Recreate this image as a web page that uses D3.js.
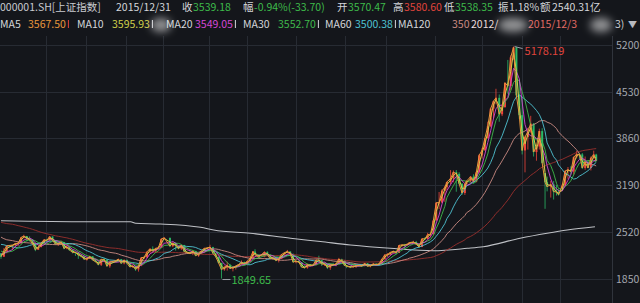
<!DOCTYPE html>
<html lang="zh">
<head>
<meta charset="UTF-8">
<title>上证指数 K线</title>
<script src="https://cdn.jsdelivr.net/npm/d3@7/dist/d3.min.js"></script>
<style>
html, body { margin: 0; padding: 0; background: #14161b; overflow: hidden; }
svg { display: block; }
</style>
</head>
<body>
<script>
// weekly bars, [week end "MM-DD", open, high, low, close]
var k2012 = [
  ["01-06",2212,2214,2132,2163],["01-13",2163,2285,2160,2244],["01-20",2244,2320,2212,2319],
  ["02-03",2319,2332,2260,2330],["02-10",2330,2363,2300,2351],["02-17",2351,2375,2318,2357],
  ["02-24",2357,2440,2340,2439],["03-02",2439,2478,2425,2460],["03-09",2460,2461,2380,2420],
  ["03-16",2420,2455,2380,2405],["03-23",2405,2410,2340,2349],["03-30",2349,2350,2242,2262],
  ["04-06",2262,2305,2258,2302],["04-13",2302,2360,2295,2359],["04-20",2359,2410,2350,2406],
  ["04-27",2406,2415,2370,2396],["05-04",2396,2453,2394,2452],["05-11",2452,2455,2390,2394],
  ["05-18",2394,2400,2331,2344],["05-25",2344,2370,2318,2350],["06-01",2350,2393,2340,2373],
  ["06-08",2373,2375,2270,2281],["06-15",2281,2321,2270,2306],["06-21",2306,2310,2245,2260],
  ["06-29",2260,2262,2210,2225],["07-06",2225,2241,2174,2223],["07-13",2223,2226,2132,2185],
  ["07-20",2185,2200,2152,2168],["07-27",2168,2170,2116,2128],["08-03",2128,2145,2106,2132],
  ["08-10",2132,2176,2130,2168],["08-17",2168,2173,2110,2114],["08-24",2114,2132,2082,2092],
  ["08-31",2092,2095,2038,2047],["09-07",2047,2128,2029,2127],["09-14",2127,2146,2110,2120],
  ["09-21",2120,2122,2022,2026],["09-28",2026,2088,2004,2086],["10-12",2086,2115,2084,2104],
  ["10-19",2104,2133,2092,2128],["10-26",2128,2130,2060,2067],["11-02",2067,2120,2053,2117],
  ["11-09",2117,2120,2063,2069],["11-16",2069,2073,2012,2015],["11-23",2015,2045,2000,2030],
  ["11-30",2030,2033,1959,1980],["12-07",1980,2034,1949,2033],["12-14",2033,2151,2026,2150],
  ["12-21",2150,2175,2128,2153],["12-28",2153,2236,2148,2233]
];
var k2013 = [
  ["01-04",2233,2276,2226,2276],["01-11",2276,2311,2240,2243],["01-18",2243,2285,2220,2284],
  ["01-25",2284,2317,2270,2292],["02-01",2292,2420,2290,2419],["02-08",2419,2444,2405,2433],
  ["02-22",2433,2437,2300,2314],["03-01",2314,2375,2300,2359],["03-08",2359,2366,2250,2318],
  ["03-15",2318,2322,2270,2278],["03-22",2278,2330,2260,2328],["03-29",2328,2333,2230,2236],
  ["04-03",2236,2242,2221,2225],["04-12",2225,2240,2200,2207],["04-19",2207,2250,2185,2245],
  ["04-26",2245,2248,2175,2177],["05-03",2177,2210,2161,2205],["05-10",2205,2250,2200,2247],
  ["05-17",2247,2290,2225,2282],["05-24",2282,2300,2270,2288],["05-31",2288,2334,2280,2301],
  ["06-07",2301,2305,2205,2211],["06-14",2211,2215,2150,2162],["06-21",2162,2165,2068,2073],
  ["06-28",2073,2075,1849,1979],["07-05",1979,2035,1960,2007],["07-12",2007,2092,1964,2040],
  ["07-19",2040,2060,1986,1992],["07-26",1992,2018,1952,2010],["08-02",2010,2035,1978,2029],
  ["08-09",2029,2055,2025,2052],["08-16",2052,2110,2050,2085],["08-23",2085,2092,2040,2057],
  ["08-30",2057,2105,2050,2098],["09-06",2098,2143,2090,2140],["09-13",2140,2243,2138,2237],
  ["09-18",2237,2270,2185,2191],["09-27",2191,2200,2134,2160],["10-11",2160,2235,2155,2228],
  ["10-18",2228,2242,2190,2193],["10-25",2193,2194,2130,2133],["11-01",2133,2155,2120,2149],
  ["11-08",2149,2152,2100,2106],["11-15",2106,2140,2080,2135],["11-22",2135,2200,2130,2196],
  ["11-29",2196,2230,2170,2220],["12-06",2220,2260,2215,2238],["12-13",2238,2240,2190,2204],
  ["12-20",2204,2206,2080,2084],["12-27",2084,2105,2068,2101]
];
var k2014 = [
  ["01-03",2101,2116,2078,2083],["01-10",2083,2085,2009,2013],["01-17",2013,2040,1991,2004],
  ["01-24",2004,2060,1990,2054],["01-30",2054,2058,2023,2033],["02-07",2033,2048,2030,2044],
  ["02-14",2044,2121,2040,2115],["02-21",2115,2177,2090,2113],["02-28",2113,2116,2030,2056],
  ["03-07",2056,2080,2030,2057],["03-14",2057,2058,1985,2004],["03-21",2004,2050,1974,2047],
  ["03-28",2047,2076,2040,2046],["04-04",2046,2070,2025,2058],["04-11",2058,2146,2050,2130],
  ["04-18",2130,2134,2090,2097],["04-25",2097,2114,2030,2036],["04-30",2036,2040,1999,2026],
  ["05-09",2026,2030,1999,2011],["05-16",2011,2055,2004,2026],["05-23",2026,2041,2001,2034],
  ["05-30",2034,2050,2025,2039],["06-06",2039,2045,2015,2029],["06-13",2029,2075,2025,2070],
  ["06-20",2070,2073,2018,2024],["06-27",2024,2046,2010,2036],["07-04",2036,2075,2035,2059],
  ["07-11",2059,2072,2040,2047],["07-18",2047,2067,2040,2059],["07-25",2059,2133,2055,2127],
  ["08-01",2127,2200,2125,2185],["08-08",2185,2215,2160,2194],["08-15",2194,2230,2180,2226],
  ["08-22",2226,2248,2210,2241],["08-29",2241,2245,2196,2217],["09-05",2217,2327,2215,2326],
  ["09-12",2326,2340,2300,2331],["09-19",2331,2347,2270,2329],["09-26",2329,2350,2320,2347],
  ["09-30",2347,2365,2340,2364],["10-10",2364,2392,2350,2374],["10-17",2374,2390,2335,2341],
  ["10-24",2341,2345,2290,2302],["10-31",2302,2423,2300,2420],["11-07",2420,2440,2400,2418],
  ["11-14",2418,2505,2415,2478],["11-21",2478,2490,2440,2487],["11-28",2487,2683,2480,2683],
  ["12-05",2683,2938,2680,2938],["12-12",2938,3091,2845,2938],["12-19",2938,3130,2950,3108],
  ["12-26",3108,3180,2950,3158],["12-31",3158,3240,3120,3235]
];
var k2015 = [
  ["01-09",3235,3405,3200,3285],["01-16",3285,3400,3230,3376],["01-23",3376,3406,3095,3351],
  ["01-30",3351,3375,3200,3210],["02-06",3210,3215,3050,3076],["02-13",3076,3210,3049,3204],
  ["02-17",3204,3255,3200,3247],["02-27",3247,3320,3230,3310],["03-06",3310,3345,3220,3241],
  ["03-13",3241,3385,3230,3373],["03-20",3373,3633,3370,3617],["03-27",3617,3722,3570,3691],
  ["04-03",3691,3865,3680,3863],["04-10",3863,4100,3860,4035],["04-17",4035,4300,4020,4287],
  ["04-24",4287,4400,4140,4394],["04-30",4394,4572,4350,4442],["05-08",4442,4490,4099,4206],
  ["05-15",4206,4340,4180,4309],["05-22",4309,4658,4300,4658],["05-29",4658,4986,4500,4611],
  ["06-05",4611,5052,4550,5023],["06-12",5023,5178,4990,5166],["06-19",5166,5175,4450,4478],
  ["06-26",4478,4700,4140,4193],["07-03",4193,4450,3630,3687],["07-10",3687,3900,3373,3878],
  ["07-17",3878,4000,3700,3957],["07-24",3957,4184,3940,4070],["07-31",4070,4080,3600,3664],
  ["08-07",3664,3750,3540,3744],["08-14",3744,4000,3700,3965],["08-21",3965,4006,3500,3508],
  ["08-28",3361,3361,2850,3232],["09-02",3232,3312,3100,3166],["09-11",3166,3250,3011,3200],
  ["09-18",3200,3250,2983,3097],["09-25",3097,3190,3040,3092],["09-30",3092,3130,3040,3053],
  ["10-09",3143,3200,3143,3183],["10-16",3183,3400,3180,3391],["10-23",3391,3450,3280,3412],
  ["10-30",3412,3460,3330,3383],["11-06",3383,3600,3340,3590],["11-13",3590,3678,3570,3632],
  ["11-20",3632,3655,3560,3630],["11-27",3630,3650,3420,3436],["12-04",3436,3600,3410,3524],
  ["12-11",3524,3540,3430,3435],["12-18",3435,3600,3400,3578],["12-25",3578,3684,3560,3628],
  ["12-31",3628,3640,3530,3539]
];
// 2011 weekly closes, only used so the long averages exist from the first bar
var close2011 = [2839,2791,2715,2752,2799,2827,2900,2905,2971,2937,2906,2977,2968,3030,3050,2993,
  2911,2872,2871,2858,2709,2728,2705,2642,2746,2759,2797,2820,2772,2701,2626,2593,2534,2612,2529,
  2497,2482,2431,2359,2431,2317,2473,2528,2481,2416,2397,2360,2315,2224,2204,2199];

// moving averages, daily periods and their length in weekly bars
var maNames = ["MA5", "MA10", "MA20", "MA30", "MA60", "MA120", "MA250"];
var maWeeks = [1, 2, 4, 6, 12, 24, 50];
var maColors = ["#e8963c", "#cfd04a", "#d447d4", "#3fb94c", "#4fc3d3", "#c98a82", "#9a2f2c"];
var maValues = ["3567.50", "3595.93", "3549.05", "3552.70", "3500.38", "350"];

// the pale long-term line
var longDates = ["2012-01-04","2012-08-03","2012-11-16","2012-11-28","2013-01-28","2013-05-06",
  "2013-06-07","2013-09-05","2013-12-12","2014-02-23","2014-05-07","2014-08-13","2014-11-26",
  "2015-02-17","2015-03-28","2015-06-26","2015-08-31","2015-10-19","2015-12-26"];
var longValues = [2679,2665,2665,2642,2632,2585,2546,2499,2427,2380,2331,2283,2249,2283,2306,
  2427,2499,2546,2593];

var yTicks = [5200, 4530, 3860, 3190, 2520, 1850];
var gridDates = ["2012-04-24","2012-07-29","2012-11-04","2013-02-03","2013-05-26","2013-08-28",
  "2013-12-26","2014-04-25","2014-08-01","2014-12-01","2015-03-25","2015-07-01","2015-10-02"];

var title = "000001.SH[上证指数]", quoteDate = "2015/12/31";
var quoteLabels = ["收", "幅", "开", "高", "低", "振", "额"];
var quoteValues = ["3539.18", "-0.94%(-33.70)", "3570.47", "3580.60", "3538.35", "1.18%", "2540.31亿"];
var rangeFrom = "2012/", rangeTo = "2015/12/3", rangeTail = "3)";
var highMark = 5178.19, lowMark = 1849.65;

var width = 640, height = 303;
var up = "#f0453a", down = "#2bb866", green = "#3dba4a", red = "#e0443c";
var font = "'Noto Sans CJK SC', 'Noto Sans', sans-serif";
var parse = d3.timeParse("%Y-%m-%d");

var bars = [];
[[2012, k2012], [2013, k2013], [2014, k2014], [2015, k2015]].forEach(function(p){
    p[1].forEach(function(r){
        bars.push({date: parse(p[0] + "-" + r[0]), o: r[1], h: r[2], l: r[3], c: r[4]});
    });
});
var closes = close2011.concat(bars.map(function(b){ return b.c; }));
var pre = close2011.length;

var x = d3.scaleTime()
    .domain([parse("2012-01-04"), parse("2015-12-31")])
    .range([1, 597]);
var y = d3.scaleLinear().domain([1850, 5200]).range([278.5, 45]);
function bx(b){ return x(d3.timeDay.offset(b.date, -2)); }

var svg = d3.select("body").append("svg")
    .attr("width", width)
    .attr("height", height)
    .style("font-family", font);
svg.append("rect").attr("width", width).attr("height", height).attr("fill", "#14161b");

var defs = svg.append("defs");
defs.append("filter").attr("id", "glow").attr("x", "-50%").attr("y", "-80%")
    .attr("width", "200%").attr("height", "260%")
    .append("feGaussianBlur").attr("stdDeviation", 4);
defs.append("clipPath").attr("id", "plot")
    .append("rect").attr("x", 0).attr("y", 36).attr("width", 612).attr("height", 267);

// grid
svg.append("g").selectAll("line").data(yTicks).enter().append("line")
    .attr("x1", 0).attr("x2", 612)
    .attr("y1", function(d){ return Math.round(y(d)) + 0.5; })
    .attr("y2", function(d){ return Math.round(y(d)) + 0.5; })
    .attr("stroke", "#272b33");
svg.append("g").selectAll("line").data(gridDates).enter().append("line")
    .attr("x1", function(d){ return Math.round(x(parse(d))) + 0.5; })
    .attr("x2", function(d){ return Math.round(x(parse(d))) + 0.5; })
    .attr("y1", 36).attr("y2", height)
    .attr("stroke", "#272b33");
svg.append("line").attr("x1", 612.5).attr("x2", 612.5).attr("y1", 36).attr("y2", height)
    .attr("stroke", "#30343c");

// y axis labels
svg.append("g").selectAll("text").data(yTicks).enter().append("text")
    .attr("x", 616).attr("y", function(d){ return y(d) + 4; })
    .attr("fill", "#a4a8b0").attr("font-size", 10.5)
    .text(function(d){ return d; });

var plot = svg.append("g").attr("clip-path", "url(#plot)");

// candles
var candle = plot.append("g").selectAll("g").data(bars).enter().append("g");
candle.append("line")
    .attr("x1", function(b){ return bx(b); }).attr("x2", function(b){ return bx(b); })
    .attr("y1", function(b){ return y(b.h); }).attr("y2", function(b){ return y(b.l); })
    .attr("stroke", function(b){ return b.c >= b.o ? up : down; })
    .attr("stroke-width", 0.8);
candle.append("rect")
    .attr("x", function(b){ return bx(b) - 1; })
    .attr("width", 2)
    .attr("y", function(b){ return y(Math.max(b.o, b.c)); })
    .attr("height", function(b){ return Math.max(0.8, Math.abs(y(b.o) - y(b.c))); })
    .attr("fill", function(b){ return b.c >= b.o ? up : down; });

// long-term line
var longLine = d3.line()
    .x(function(d, i){ return x(parse(longDates[i])); })
    .y(function(d){ return y(d); })
    .curve(d3.curveMonotoneX);
plot.append("path").attr("d", longLine(longValues))
    .attr("fill", "none").attr("stroke", "#bfc1c6").attr("stroke-width", 1.1);

// moving averages, longest first so the short ones sit on top
for (var m = maWeeks.length - 1; m >= 0; m--) {
    var n = maWeeks[m];
    var pts = bars.map(function(b, i){
        var k = pre + i;
        var s = d3.sum(closes.slice(k - n + 1, k + 1));
        return [bx(b), y(s / n)];
    });
    plot.append("path").attr("d", d3.line()(pts))
        .attr("fill", "none").attr("stroke", maColors[m])
        .attr("stroke-width", m < 2 ? 1 : 0.9);
}

// high / low markers
var hiBar = bars.reduce(function(a, b){ return b.h > a.h ? b : a; });
var loBar = bars.reduce(function(a, b){ return b.l < a.l ? b : a; });
var hx = bx(hiBar), hy = y(highMark);
svg.append("path").attr("d", "M" + (hx + 1) + "," + hy + "L" + (hx + 9) + "," + (hy + 2))
    .attr("stroke", "#9a9ea6").attr("fill", "none");
svg.append("text").attr("x", hx + 11).attr("y", hy + 8)
    .attr("fill", red).attr("font-size", 11).text(highMark.toFixed(2));
var lx = bx(loBar), ly = y(lowMark);
svg.append("path").attr("d", "M" + (lx + 1) + "," + (ly + 1) + "L" + (lx + 9) + "," + (ly + 1))
    .attr("stroke", "#9a9ea6").attr("fill", "none");
svg.append("text").attr("x", lx + 10).attr("y", ly + 5)
    .attr("fill", green).attr("font-size", 11).text(lowMark.toFixed(2));

// header row 1
var head = svg.append("g").attr("font-size", 10.5);
head.append("text").attr("x", 0).attr("y", 11).attr("fill", "#c9cbd0").text(title);
head.append("text").attr("x", 116).attr("y", 11).attr("fill", "#d4d6da").text(quoteDate);
var qLabelX = [182, 243, 337, 393, 444, 498, 540];
var qValueX = [193, 254, 348, 404, 455, 509, 552];
var qColors = [green, green, green, red, green, "#d4d6da", "#d4d6da"];
quoteLabels.forEach(function(t, i){
    head.append("text").attr("x", qLabelX[i]).attr("y", 11).attr("fill", "#d4d6da").text(t);
    head.append("text").attr("x", qValueX[i]).attr("y", 11).attr("fill", qColors[i]).text(quoteValues[i]);
});

// header row 2: moving average readout
var maLabelX = [0, 77, 166, 243, 325, 398];
var maValueX = [28, 112, 195, 278, 355, 452];
maValues.forEach(function(v, i){
    head.append("text").attr("x", maLabelX[i]).attr("y", 28).attr("fill", "#d4d6da").text(maNames[i]);
    var t = head.append("text").attr("x", maValueX[i]).attr("y", 28).attr("fill", maColors[i]).text(v);
    if (i < 5) {
        var w = t.node().getComputedTextLength();
        head.append("rect").attr("x", maValueX[i] + w + 2).attr("y", 20)
            .attr("width", 1).attr("height", 8).attr("fill", i == 0 ? red : "#d4d6da");
    }
});
head.append("text").attr("x", 471).attr("y", 28).attr("fill", "#eadcdc").text(rangeFrom);
head.append("text").attr("x", 528).attr("y", 28).attr("fill", "#e06a64").text(rangeTo);
head.append("text").attr("x", 615).attr("y", 28).attr("fill", "#c9cbd0").text(rangeTail);
head.append("text").attr("x", 628).attr("y", 28).attr("fill", "#b8bac0").attr("font-size", 9).text("▼");

// soft white smudges over the readout
[[161, 10], [513, 15], [601, 11]].forEach(function(g){
    svg.append("ellipse").attr("cx", g[0]).attr("cy", 25).attr("rx", g[1]).attr("ry", 7)
        .attr("fill", "#ffffff").attr("opacity", 0.55).attr("filter", "url(#glow)");
});
</script>
</body>
</html>
